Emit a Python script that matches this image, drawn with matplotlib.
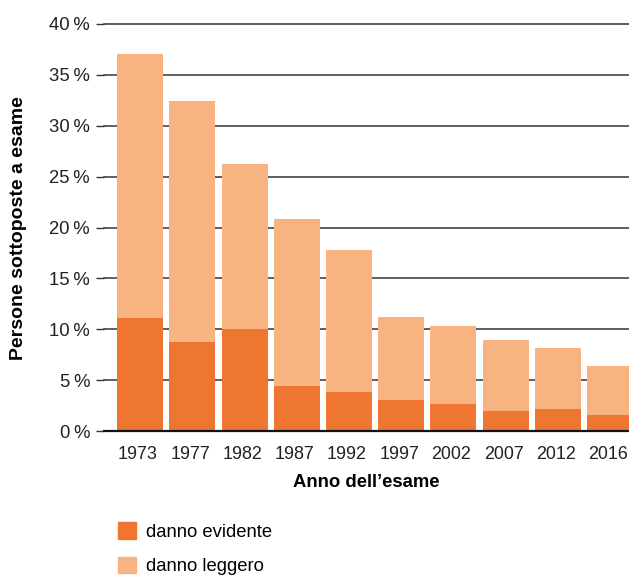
import matplotlib
matplotlib.use("Agg")
import matplotlib.pyplot as plt
import matplotlib.transforms as mtrans
from matplotlib.patches import Patch

years = ["1973", "1977", "1982", "1987", "1992", "1997", "2002", "2007", "2012", "2016"]
danno_evidente = [11.1, 8.75, 10.0, 4.4, 3.85, 3.05, 2.65, 1.95, 2.15, 1.6]
totale = [37.05, 32.45, 26.25, 20.85, 17.8, 11.2, 10.3, 8.95, 8.15, 6.4]
danno_leggero = [t - e for t, e in zip(totale, danno_evidente)]
yticks = [0, 5, 10, 15, 20, 25, 30, 35, 40]

c_dark = "#EE7631"
c_light = "#F8B480"

plt.rcParams['font.family'] = ['Liberation Sans', 'DejaVu Sans']
FS = 13.3

fig = plt.figure(figsize=(6.29, 5.78), dpi=100)
ax = fig.add_axes([104/629, 1 - 431/578, 1 - 104/629, (431 - 24)/578])

x = list(range(len(years)))
ax.bar(x, danno_evidente, width=0.88, color=c_dark, zorder=3, label="danno evidente")
ax.bar(x, danno_leggero, bottom=danno_evidente, width=0.88, color=c_light, zorder=3,
       label="danno leggero")

for v in yticks:
    if v == 0:
        ax.axhline(v, color="#111111", lw=1.6, zorder=4, clip_on=False)
    else:
        ax.axhline(v, color="#333333", lw=1.1, zorder=1, clip_on=False)

ax.set_xlim(-0.69, 9.36)
ax.set_ylim(0, 40)
ax.set_yticks(yticks)
ax.set_yticklabels([f"{v}\u2009%" for v in yticks], fontsize=FS, color="#222222")
ax.set_xticks(x)
ax.set_xticklabels(years, fontsize=12.9, color="#222222")
ax.tick_params(axis="y", length=6, width=1, color="#333333", pad=4)
ax.tick_params(axis="x", length=0, pad=11)
shift = mtrans.ScaledTranslation(-2/100, 0, fig.dpi_scale_trans)
for lab in ax.get_xticklabels():
    lab.set_transform(lab.get_transform() + shift)
for s in ax.spines.values():
    s.set_visible(False)

ax.set_xlabel("Anno dell\u2019esame", fontsize=FS, fontweight="bold", labelpad=8)
fig.text(19/629, 1 - 228/578, "Persone sottoposte a esame", rotation=90,
         fontsize=14, fontweight="bold", ha="center", va="center")

handles = [Patch(color=c_dark, label="danno evidente"),
           Patch(color=c_light, label="danno leggero")]
fig.legend(handles=handles, loc="upper left", bbox_to_anchor=(111/629, 1 - 515/578),
           frameon=False, fontsize=FS, handlelength=0.97, handleheight=0.97,
           handletextpad=0.55, labelspacing=0.85, borderaxespad=0)

fig.savefig("out.png", dpi=100)
